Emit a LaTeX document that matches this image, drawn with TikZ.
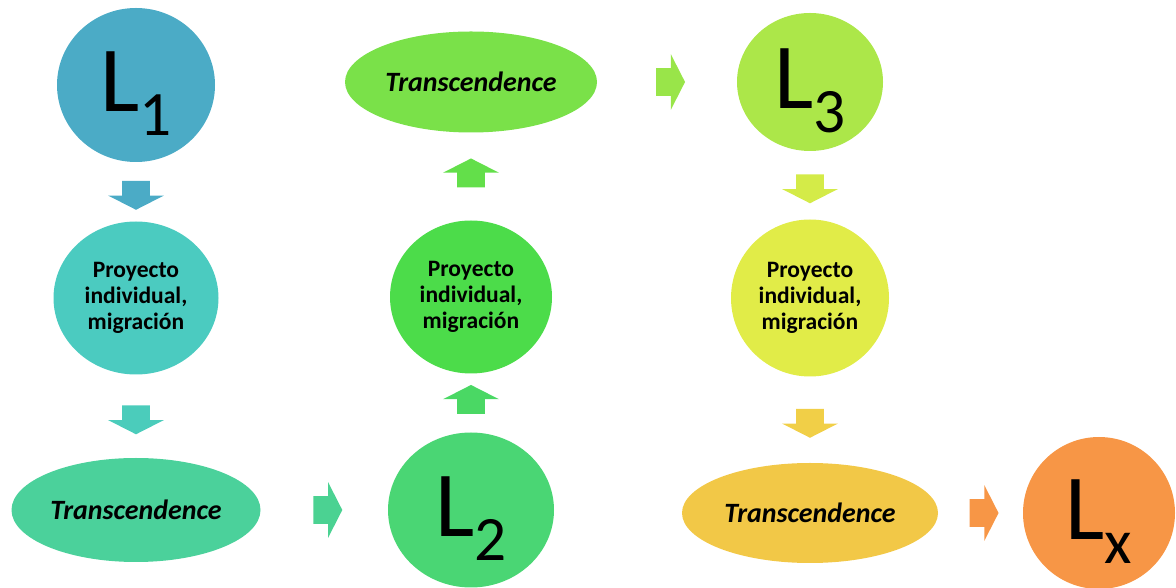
\documentclass[tikz,border=0pt]{standalone}
\usepackage{fontspec}
\setmainfont{Carlito}
\usetikzlibrary{shapes.geometric,shapes.arrows}

% node colours, blue to orange
\definecolor{n0}{HTML}{4BABC6}
\definecolor{n1}{HTML}{4BCBC0}
\definecolor{n2}{HTML}{4BD19B}
\definecolor{n3}{HTML}{4AD674}
\definecolor{n4}{HTML}{4CDC4A}
\definecolor{n5}{HTML}{7AE149}
\definecolor{n6}{HTML}{ACE749}
\definecolor{n7}{HTML}{E1EC48}
\definecolor{n8}{HTML}{F2C847}
\definecolor{n9}{HTML}{F79646}
% arrow colours
\definecolor{a1}{HTML}{4BABC6}
\definecolor{a2}{HTML}{4BCCBB}
\definecolor{a3}{HTML}{4BD292}
\definecolor{a4}{HTML}{4AD864}
\definecolor{a5}{HTML}{63DF4A}
\definecolor{a6}{HTML}{99E549}
\definecolor{a7}{HTML}{D4EB48}
\definecolor{a8}{HTML}{F1CF47}
\definecolor{a9}{HTML}{F79646}

\newcommand{\lsub}[1]{\raisebox{-13.5pt}{\fontsize{36}{36}\selectfont #1}}

\begin{document}
\begin{tikzpicture}[
    level/.style={
        ellipse,
        inner sep=0pt,
        text height=1.08cm,
        text depth=0pt,
        font=\fontsize{53}{53}\selectfont
    },
    project/.style={
        ellipse,
        inner sep=0pt,
        align=center,
        font=\fontsize{13.4}{14.7}\selectfont\bfseries
    },
    transc/.style={
        ellipse,
        inner sep=0pt,
        font=\fontsize{15.9}{18}\selectfont\bfseries\itshape
    },
    blockarrow/.style={
        single arrow,
        inner xsep=0pt,
        inner ysep=0.27cm,
        minimum height=0.58cm,
        single arrow head extend=0.28cm,
        single arrow tip angle=126
    }
]
\useasboundingbox (0,0) rectangle (23.52,-11.76);

% First column
\node[level, fill=n0, minimum width=3.16cm, minimum height=3.08cm] (l1) at (2.72,-1.70) {L\lsub{1}};
\node[project, fill=n1, minimum width=3.30cm, minimum height=3.06cm] (proj1) at (2.72,-5.96) {Proyecto\\individual,\\migración};
\node[transc, fill=n2, minimum width=4.98cm, minimum height=2.08cm] (trans1) at (2.72,-10.20) {Transcendence};

% Second column
\node[level, fill=n3, minimum width=3.32cm, minimum height=3.10cm] (l2) at (9.42,-10.20) {L\lsub{2}};
\node[project, fill=n4, minimum width=3.24cm, minimum height=3.06cm] (proj2) at (9.42,-5.94) {Proyecto\\individual,\\migración};
\node[transc, fill=n5, minimum width=5.04cm, minimum height=2.02cm] (trans2) at (9.42,-1.64) {Transcendence};

% Third column
\node[level, fill=n6, minimum width=2.92cm, minimum height=2.76cm] (l3) at (16.20,-1.64) {L\lsub{3}};
\node[project, fill=n7, minimum width=3.16cm, minimum height=3.14cm] (proj3) at (16.20,-5.96) {Proyecto\\individual,\\migración};
\node[transc, fill=n8, minimum width=5.12cm, minimum height=2.00cm] (trans3) at (16.20,-10.26) {Transcendence};

% Last level
\node[level, fill=n9, minimum width=3.04cm, minimum height=3.04cm] (lx) at (21.98,-10.26) {L\lsub{x}};

% Arrows
\path (l1) -- node[blockarrow, fill=a1, rotate=-90] (ar1) {} (proj1);
\path (proj1) -- node[blockarrow, fill=a2, rotate=-90] (ar2) {} (trans1);
\path (trans1) -- node[blockarrow, fill=a3] (ar3) {} (l2);
\path (l2) -- node[blockarrow, fill=a4, rotate=90] (ar4) {} (proj2);
\path (proj2) -- node[blockarrow, fill=a5, rotate=90] (ar5) {} (trans2);
\path (trans2) -- node[blockarrow, fill=a6] (ar6) {} (l3);
\path (l3) -- node[blockarrow, fill=a7, rotate=-90] (ar7) {} (proj3);
\path (proj3) -- node[blockarrow, fill=a8, rotate=-90] (ar8) {} (trans3);
\path (trans3) -- node[blockarrow, fill=a9] (ar9) {} (lx);

\end{tikzpicture}
\end{document}
